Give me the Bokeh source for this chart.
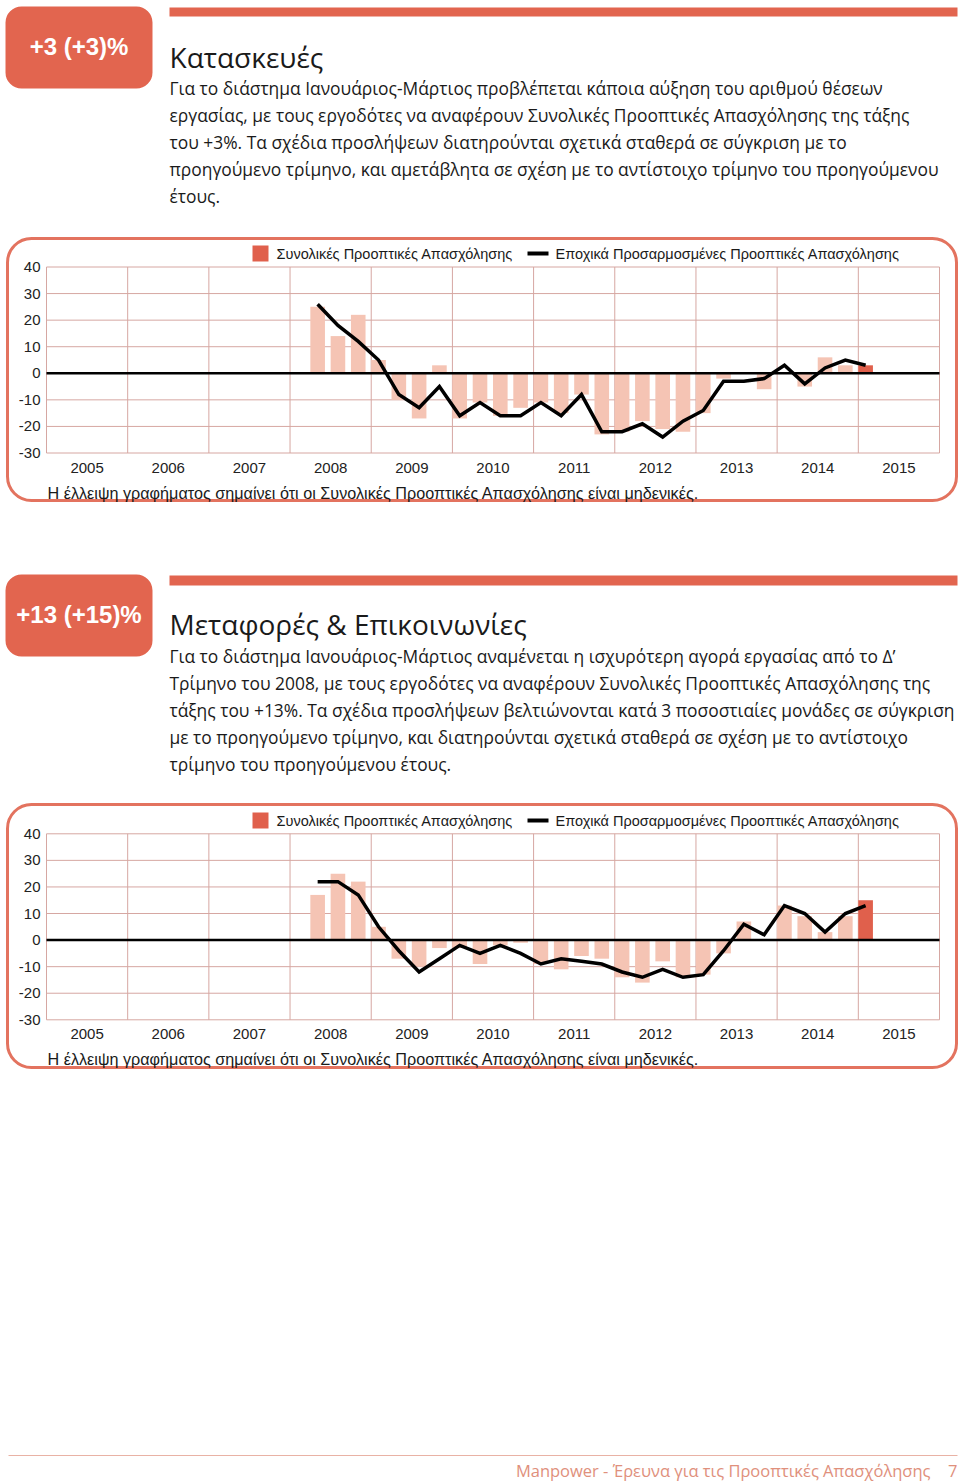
from bokeh.plotting import figure
from bokeh.models import Range1d
from bokeh.core.properties import value
from bokeh.embed import file_html
from bokeh.resources import INLINE

# ---------------- data ----------------
quarters = ["2008 Q2", "2008 Q3", "2008 Q4",
            "2009 Q1", "2009 Q2", "2009 Q3", "2009 Q4",
            "2010 Q1", "2010 Q2", "2010 Q3", "2010 Q4",
            "2011 Q1", "2011 Q2", "2011 Q3", "2011 Q4",
            "2012 Q1", "2012 Q2", "2012 Q3", "2012 Q4",
            "2013 Q1", "2013 Q2", "2013 Q3", "2013 Q4",
            "2014 Q1", "2014 Q2", "2014 Q3", "2014 Q4",
            "2015 Q1"]

year_labels = ["2005", "2006", "2007", "2008", "2009", "2010",
               "2011", "2012", "2013", "2014", "2015"]
y_ticks = [40, 30, 20, 10, 0, -10, -20, -30]

# Κατασκευές
c1_net = [25, 14, 22, 5, -10, -17, 3, -17, -11, -16, -13, -11, -15, -8, -23,
          -22, -18, -21, -22, -15, -2, 0, -6, 0, -5, 6, 3, 3]
c1_sa = [26, 18, 12, 5, -8, -13, -5, -16, -11, -16, -16, -11, -16, -8, -22,
         -22, -19, -24, -18, -14, -3, -3, -2, 3, -4, 2, 5, 3]

# Μεταφορές & Επικοινωνίες
c2_net = [17, 25, 22, 5, -7, -10, -3, -3, -9, -2, -1, -9, -11, -6, -7,
          -14, -16, -8, -14, -13, -5, 7, 0, 13, 9, 3, 9, 15]
c2_sa = [22, 22, 17, 5, -4, -12, -7, -2, -5, -2, -5, -9, -7, -8, -9,
         -12, -14, -11, -14, -13, -4, 6, 2, 13, 10, 3, 10, 13]

head1_value = "+3 (+3)%"
head1_title = "Κατασκευές"
head1_text = [
    "Για το διάστημα Ιανουάριος-Μάρτιος προβλέπεται κάποια αύξηση του αριθμού θέσεων",
    "εργασίας, με τους εργοδότες να αναφέρουν Συνολικές Προοπτικές Απασχόλησης της τάξης",
    "του +3%. Τα σχέδια προσλήψεων διατηρούνται σχετικά σταθερά σε σύγκριση με το",
    "προηγούμενο τρίμηνο, και αμετάβλητα σε σχέση με το αντίστοιχο τρίμηνο του προηγούμενου",
    "έτους.",
]
head2_value = "+13 (+15)%"
head2_title = "Μεταφορές & Επικοινωνίες"
head2_text = [
    "Για το διάστημα Ιανουάριος-Μάρτιος αναμένεται η ισχυρότερη αγορά εργασίας από το Δ’",
    "Τρίμηνο του 2008, με τους εργοδότες να αναφέρουν Συνολικές Προοπτικές Απασχόλησης της",
    "τάξης του +13%. Τα σχέδια προσλήψεων βελτιώνονται κατά 3 ποσοστιαίες μονάδες σε σύγκριση",
    "με το προηγούμενο τρίμηνο, και διατηρούνται σχετικά σταθερά σε σχέση με το αντίστοιχο",
    "τρίμηνο του προηγούμενου έτους.",
]
legend_net = "Συνολικές Προοπτικές Απασχόλησης"
legend_sa = "Εποχικά Προσαρμοσμένες Προοπτικές Απασχόλησης"
footnote = "Η έλλειψη γραφήματος σημαίνει ότι οι Συνολικές Προοπτικές Απασχόλησης είναι μηδενικές."
footer_text = "Manpower - Έρευνα για τις Προοπτικές Απασχόλησης"
page_no = "7"

# ---------------- styles ----------------
RED = "#E2654F"
BOX_RED = "#E3735F"
LIGHT = "#F5C4B4"
DARK = "#E0604C"
GRID = "#D6A7A2"
TEXT = "#1A1A1A"
FOOT = "#E0907C"
BODY_FONT = value("Open Sans")
SANS = value("Liberation Sans")

W, H = 958, 1484
M = 0  # canvas sits at the page's top-left corner


def X(px):
    return px - M


def Y(py):
    return py - M


PLOT_L, PLOT_R = 46.0, 939.0
ppy = (PLOT_R - PLOT_L) / 11.0
x_start = 2005 - X(PLOT_L) / ppy

p = figure(width=W, height=H, x_range=Range1d(0, W), y_range=Range1d(H, 0),
           min_border=0, toolbar_location=None, output_backend="svg",
           x_axis_location=None, y_axis_location=None)
p.xgrid.visible = False
p.ygrid.visible = False
p.outline_line_color = None
p.background_fill_color = "white"
p.border_fill_color = "white"

p.extra_x_ranges = {"cx": Range1d(x_start, x_start + W / ppy)}


def yrange(top_px, bot_px):
    ppu = (bot_px - top_px) / 70.0
    top_val = 40 + Y(top_px) / ppu
    bot_val = 40 - (H - Y(top_px)) / ppu
    return Range1d(bot_val, top_val)


charts = [
    dict(name="c1", top=266.5, bot=452.5, net=c1_net, sa=c1_sa,
         box=(7, 956, 238, 500), legend_y=253, xlab_y=467, foot_y=492),
    dict(name="c2", top=833.3, bot=1019.3, net=c2_net, sa=c2_sa,
         box=(7, 956, 804, 1067), legend_y=820, xlab_y=1033, foot_y=1058),
]
p.extra_y_ranges = {c["name"]: yrange(c["top"], c["bot"]) for c in charts}

heads = [
    dict(value=head1_value, title=head1_title, text=head1_text,
         box=(5, 152, 6, 88), bar=(169, 957, 7, 16), title_y=56, text_y=87),
    dict(value=head2_value, title=head2_title, text=head2_text,
         box=(5, 152, 574, 656), bar=(169, 957, 575, 585), title_y=623, text_y=655),
]

# ---------------- headers ----------------
for h in heads:
    l, r, t, b = h["box"]
    p.quad(left=[X(l)], right=[X(r)], top=[Y(t)], bottom=[Y(b)],
           fill_color=RED, line_color=None, border_radius=16)
    p.text(x=[X((l + r) / 2)], y=[Y((t + b) / 2 - 1)], text=[h["value"]],
           text_font=SANS, text_font_style="bold", text_font_size="24px",
           text_color="white", text_align="center", text_baseline="middle")
    l, r, t, b = h["bar"]
    p.quad(left=[X(l)], right=[X(r)], top=[Y(t)], bottom=[Y(b)],
           fill_color=RED, line_color=None)
    p.text(x=[X(169)], y=[Y(h["title_y"])], text=[h["title"]],
           text_font=BODY_FONT, text_font_size="28px", text_color=TEXT,
           text_baseline="alphabetic")
    p.text(x=[X(169)] * len(h["text"]),
           y=[Y(h["text_y"] + 27 * i) for i in range(len(h["text"]))],
           text=h["text"], text_font=BODY_FONT, text_font_size="17.4px",
           text_color=TEXT, text_baseline="alphabetic")

# ---------------- charts ----------------
qx = [int(q[:4]) + (int(q[-1]) - 1) / 4.0 for q in quarters]
bar_w = 0.18
centers = [v + bar_w / 2 for v in qx]
years_num = [int(s) for s in year_labels]
grid_x = years_num + [years_num[-1] + 1]
grid_y = [t for t in y_ticks if t != 0]

for c in charts:
    yn = c["name"]
    # border box
    l, r, t, b = c["box"]
    p.quad(left=[X(l)], right=[X(r)], top=[Y(t)], bottom=[Y(b)],
           fill_color=None, line_color=BOX_RED, line_width=3, border_radius=24)
    # grid
    p.segment(x0=[grid_x[0]] * len(grid_y), x1=[grid_x[-1]] * len(grid_y),
              y0=grid_y, y1=grid_y, line_color=GRID, line_width=1,
              x_range_name="cx", y_range_name=yn)
    p.segment(x0=grid_x, x1=grid_x, y0=[min(y_ticks)] * len(grid_x),
              y1=[max(y_ticks)] * len(grid_x), line_color=GRID, line_width=1,
              x_range_name="cx", y_range_name=yn)
    # bars
    colors = [LIGHT] * (len(c["net"]) - 1) + [DARK]
    p.vbar(x=centers, width=bar_w, top=c["net"], bottom=0, fill_color=colors,
           line_color=None, x_range_name="cx", y_range_name=yn)
    # zero line
    p.segment(x0=[grid_x[0]], x1=[grid_x[-1]], y0=[0], y1=[0],
              line_color="black", line_width=2.5,
              x_range_name="cx", y_range_name=yn)
    # seasonally adjusted line
    p.line(x=centers, y=c["sa"], line_color="black", line_width=3.5,
           line_join="miter", x_range_name="cx", y_range_name=yn)
    # y tick labels
    p.text(x=[X(40)] * len(y_ticks), y=y_ticks, text=[str(v) for v in y_ticks],
           text_font=SANS, text_font_size="15px", text_color="#222222",
           text_align="right", text_baseline="middle", y_range_name=yn)
    # x tick labels
    p.text(x=[v + 0.5 for v in years_num], y=[Y(c["xlab_y"])] * len(years_num),
           text=year_labels, text_font=SANS, text_font_size="15px",
           text_color="#222222", text_align="center", text_baseline="middle",
           x_range_name="cx")
    # legend
    ly = c["legend_y"]
    p.quad(left=[X(252)], right=[X(268)], top=[Y(ly - 8)], bottom=[Y(ly + 8)],
           fill_color=DARK, line_color=None)
    p.segment(x0=[X(527)], x1=[X(548)], y0=[Y(ly)], y1=[Y(ly)],
              line_color="black", line_width=4)
    p.text(x=[X(276), X(555)], y=[Y(ly)] * 2, text=[legend_net, legend_sa],
           text_font=SANS, text_font_size="14.5px", text_color=TEXT,
           text_baseline="middle")
    # footnote
    p.text(x=[X(47)], y=[Y(c["foot_y"])], text=[footnote], text_font=SANS,
           text_font_size="16.2px", text_color=TEXT, text_baseline="alphabetic")

# ---------------- footer ----------------
p.segment(x0=[X(8)], x1=[X(957)], y0=[Y(1455)], y1=[Y(1455)],
          line_color="#E9B2A5", line_width=1)
p.text(x=[X(930)], y=[Y(1470)], text=[footer_text], text_font=BODY_FONT,
       text_font_size="16.5px", text_color=FOOT, text_align="right",
       text_baseline="alphabetic")
p.text(x=[X(957)], y=[Y(1470)], text=[page_no], text_font=BODY_FONT,
       text_font_size="16.5px", text_color=FOOT, text_align="right",
       text_baseline="alphabetic")

open("out.html", "w").write(file_html(p, INLINE))
